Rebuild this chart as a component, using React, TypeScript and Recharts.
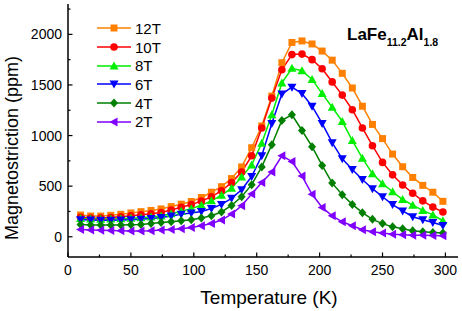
import { Customized, Legend, Line, LineChart, XAxis, YAxis } from "recharts";

const FONT = "Arial, 'Liberation Sans', Helvetica, sans-serif";

// temperature (K)
const temps = [
  10, 18, 26, 34, 42, 50, 58, 66, 74, 82, 90, 98, 106, 114, 122, 130, 138, 146, 154,
  162, 170, 178, 186, 194, 202, 210, 218, 226, 234, 242, 250, 258, 266, 274, 282, 290, 298,
];

// magnetostriction (ppm) per field
const ms12T = [
  215, 205, 205, 212, 222, 235, 248, 260, 275, 298, 322, 348, 388, 440, 495, 575, 690, 880, 1095,
  1390, 1720, 1920, 1935, 1905, 1835, 1745, 1615, 1470, 1290, 1110, 970, 817, 692, 586, 508, 440, 350,
];
const ms10T = [
  192, 186, 184, 190, 198, 208, 218, 228, 240, 265, 292, 318, 352, 395, 455, 535, 640, 800, 1075,
  1370, 1650, 1800, 1805, 1750, 1660, 1530, 1400, 1255, 1075, 900, 735, 612, 512, 430, 355, 293, 245,
];
const ms8T = [
  180, 176, 174, 175, 178, 182, 188, 196, 205, 228, 252, 278, 312, 355, 410, 480, 590, 710, 925,
  1205, 1520, 1665, 1640, 1555, 1415, 1280, 1140, 950, 777, 622, 525, 445, 368, 312, 260, 216, 158,
];
const ms6T = [
  168, 165, 163, 163, 165, 168, 172, 180, 190, 205, 222, 235, 250, 280, 320, 380, 465, 595, 800,
  1120, 1410, 1478, 1415, 1290, 1120, 930, 770, 665, 565, 475, 395, 318, 255, 198, 168, 140, 112,
];
const ms4T = [
  120, 117, 115, 115, 116, 118, 122, 130, 140, 148, 158, 168, 185, 207, 245, 310, 395, 515, 690,
  910, 1150, 1205, 1050, 890, 705, 530, 415, 320, 238, 172, 130, 98, 80, 60, 50, 42, 36,
];
const ms2T = [
  72, 68, 65, 62, 60, 58, 57, 59, 66, 72, 79, 92, 109, 131, 165, 224, 306, 422, 537,
  640, 800, 744, 600, 420, 290, 207, 148, 109, 70, 49, 36, 26, 20, 16, 14, 12, 10,
];

const xTicks = [0, 25, 50, 75, 100, 125, 150, 175, 200, 225, 250, 275, 300];
const yTicks = [0, 250, 500, 750, 1000, 1250, 1500, 1750, 2000, 2250];

const rows = temps.map((t, i) => ({
  t,
  b12: ms12T[i],
  b10: ms10T[i],
  b8: ms8T[i],
  b6: ms6T[i],
  b4: ms4T[i],
  b2: ms2T[i],
}));

type Shape = "square" | "circle" | "up" | "down" | "diamond" | "left";

const SERIES: { key: string; name: string; color: string; shape: Shape }[] = [
  { key: "b12", name: "12T", color: "#ff8000", shape: "square" },
  { key: "b10", name: "10T", color: "#ff0000", shape: "circle" },
  { key: "b8", name: "8T", color: "#00ee00", shape: "up" },
  { key: "b6", name: "6T", color: "#0000ff", shape: "down" },
  { key: "b4", name: "4T", color: "#007f00", shape: "diamond" },
  { key: "b2", name: "2T", color: "#8000ff", shape: "left" },
];

function Marker({ cx, cy, shape, color }: { cx: number; cy: number; shape: Shape; color: string }) {
  if (cx == null || cy == null) return null;
  switch (shape) {
    case "square":
      return <rect x={cx - 3.5} y={cy - 3.5} width={7} height={7} fill={color} />;
    case "circle":
      return <circle cx={cx} cy={cy} r={3.8} fill={color} />;
    case "up":
      return <polygon points={`${cx},${cy - 4.5} ${cx + 4.5},${cy + 3.5} ${cx - 4.5},${cy + 3.5}`} fill={color} />;
    case "down":
      return <polygon points={`${cx},${cy + 4.5} ${cx + 4.5},${cy - 3.5} ${cx - 4.5},${cy - 3.5}`} fill={color} />;
    case "diamond":
      return <polygon points={`${cx},${cy - 4.5} ${cx + 4},${cy} ${cx},${cy + 4.5} ${cx - 4},${cy}`} fill={color} />;
    default:
      return <polygon points={`${cx - 4.5},${cy} ${cx + 3.5},${cy - 4.5} ${cx + 3.5},${cy + 4.5}`} fill={color} />;
  }
}

function XTick({ x, y, payload }: any) {
  const major = payload.value % 50 === 0;
  return (
    <g>
      <line x1={x} x2={x} y1={y} y2={y - (major ? 4.5 : 2.5)} stroke="#000" strokeWidth={1.2} />
      {major && (
        <text x={x} y={y + 18} textAnchor="middle" fontSize={14} fontFamily={FONT} fill="#000">
          {payload.value}
        </text>
      )}
    </g>
  );
}

function YTick({ x, y, payload }: any) {
  const major = payload.value % 500 === 0;
  return (
    <g>
      <line x1={x} x2={x + (major ? 4.5 : 2.5)} y1={y} y2={y} stroke="#000" strokeWidth={1.2} />
      {major && (
        <text x={x - 6} y={y + 5} textAnchor="end" fontSize={14} fontFamily={FONT} fill="#000">
          {payload.value}
        </text>
      )}
    </g>
  );
}

function LegendBox() {
  return (
    <div style={{ fontFamily: FONT, fontSize: 15, color: "#000" }}>
      {SERIES.map((s) => (
        <div key={s.key} style={{ display: "flex", alignItems: "center", height: 18.7 }}>
          <svg width={36} height={18}>
            <line x1={1} x2={35} y1={9} y2={9} stroke={s.color} strokeWidth={1.5} />
            <Marker cx={18} cy={9} shape={s.shape} color={s.color} />
          </svg>
          <span style={{ marginLeft: 3 }}>{s.name}</span>
        </div>
      ))}
    </div>
  );
}

const Title = () => (
  <text x={347} y={40} fontFamily={FONT} fontWeight="bold" fontSize={17} fill="#000">
    LaFe
    <tspan fontSize={10.5} dy={6}>11.2</tspan>
    <tspan dy={-6}>Al</tspan>
    <tspan fontSize={10.5} dy={6}>1.8</tspan>
  </text>
);

const XLabel = () => (
  <text x={269} y={304} textAnchor="middle" fontSize={19} fontFamily={FONT} fill="#000">
    Temperature (K)
  </text>
);

const YLabel = () => (
  <text x={18} y={148} transform="rotate(-90 18 148)" textAnchor="middle" fontSize={18} fontFamily={FONT} fill="#000">
    Magnetostriction (ppm)
  </text>
);

export default function App() {
  return (
    <div style={{ position: "absolute", left: 0, top: 0, width: 462, height: 311, background: "#fff" }}>
      <LineChart width={462} height={311} data={rows} margin={{ top: 4, right: 4, left: 0, bottom: 0 }}>
        <XAxis
          dataKey="t"
          type="number"
          domain={[0, 310]}
          ticks={xTicks}
          interval={0}
          height={54}
          tickSize={0}
          tickMargin={0}
          tick={<XTick />}
          axisLine={{ stroke: "#000", strokeWidth: 1.5 }}
          label={{ content: XLabel }}
        />
        <XAxis xAxisId="top" orientation="top" type="number" domain={[0, 310]} height={0} tick={false} tickLine={false} axisLine={{ stroke: "#000", strokeWidth: 1.5 }} />
        <YAxis
          type="number"
          domain={[-200, 2300]}
          ticks={yTicks}
          interval={0}
          width={68}
          tickSize={0}
          tickMargin={0}
          tick={<YTick />}
          axisLine={{ stroke: "#000", strokeWidth: 1.5 }}
          label={{ content: YLabel }}
        />
        <YAxis yAxisId="right" orientation="right" type="number" domain={[-200, 2300]} width={0} tick={false} tickLine={false} axisLine={{ stroke: "#000", strokeWidth: 1.5 }} />
        <Legend
          layout="vertical"
          align="center"
          verticalAlign="middle"
          content={() => <LegendBox />}
          wrapperStyle={{ left: 96, top: 19, width: 80 }}
        />
        {SERIES.map((s) => (
          <Line
            key={s.key}
            dataKey={s.key}
            name={s.name}
            stroke={s.color}
            strokeWidth={1.5}
            isAnimationActive={false}
            dot={(p: any) => <Marker key={p.index} cx={p.cx} cy={p.cy} shape={s.shape} color={s.color} />}
            activeDot={false}
          />
        ))}
        <Customized component={Title} />
      </LineChart>
    </div>
  );
}
